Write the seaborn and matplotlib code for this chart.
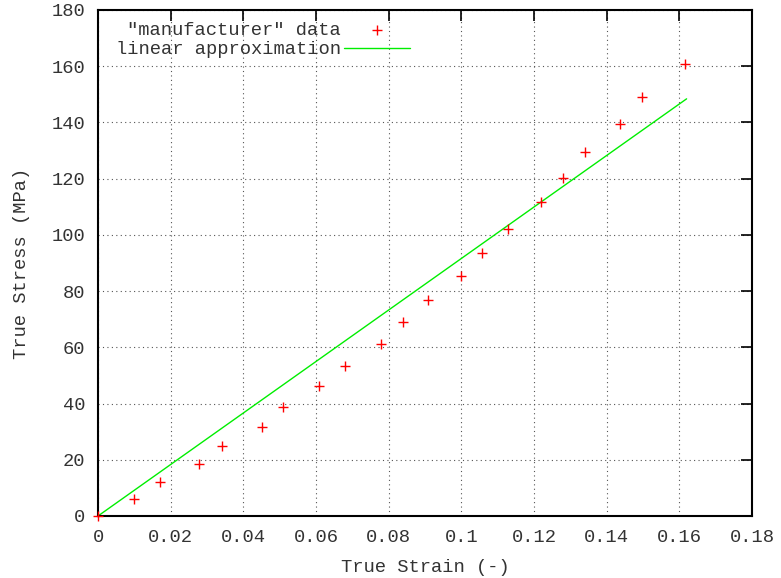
import matplotlib
matplotlib.use("Agg")
import matplotlib.pyplot as plt
import seaborn as sns
import pandas as pd

strain = [0.0, 0.0099, 0.0171, 0.0278, 0.0341, 0.0451, 0.0509, 0.0608, 0.068, 0.0779,
          0.0839, 0.0908, 0.0999, 0.1057, 0.1129, 0.1219, 0.128, 0.134, 0.1437, 0.1497, 0.1616]
stress = [0.0, 6.0, 12.1, 18.5, 24.9, 31.7, 38.8, 46.2, 53.4, 61.2,
          69.0, 76.8, 85.4, 93.6, 102.1, 111.7, 120.2, 129.5, 139.5, 149.1, 160.8]
fit_strain = [0.0, 0.162]
fit_stress = [0.0, 148.4]
xticks = [0, 0.02, 0.04, 0.06, 0.08, 0.1, 0.12, 0.14, 0.16, 0.18]
xticklabels = ["0", "0.02", "0.04", "0.06", "0.08", "0.1", "0.12", "0.14", "0.16", "0.18"]
yticks = [0, 20, 40, 60, 80, 100, 120, 140, 160, 180]

sns.set_theme(style="white")
plt.rcParams['font.family'] = ['Liberation Mono', 'DejaVu Sans Mono']

fig = plt.figure(figsize=(7.81, 5.78), dpi=100)
ax = fig.add_axes([98/781, 1-516/578, (752-98)/781, (516-10)/578])

df = pd.DataFrame({"strain": strain, "stress": stress})
fit = pd.DataFrame({"strain": fit_strain, "stress": fit_stress})

sns.scatterplot(data=df, x="strain", y="stress", ax=ax, marker="+", s=60,
                color="#ff0000", linewidth=1.0, label='"manufacturer" data', zorder=3, clip_on=False)
sns.lineplot(data=fit, x="strain", y="stress", ax=ax, color="#00ee00", linewidth=1.0,
             label="linear approximation", zorder=2)

fs = 13.5
tc = "#333333"
ax.set_xlim(0, 0.18)
ax.set_ylim(0, 180)
ax.set_xticks(xticks)
ax.set_xticklabels(xticklabels)
ax.set_yticks(yticks)
ax.grid(True, color="#555555", linestyle=(0, (1, 3)), linewidth=0.8)
ax.tick_params(direction="in", length=8, width=1.2, top=True, right=True,
               labelsize=fs, colors="black", labelcolor=tc, pad=9)
for sp in ax.spines.values():
    sp.set_color("black")
    sp.set_linewidth(1.5)
ax.set_xlabel("True Strain (-)", fontsize=fs, color=tc, labelpad=10)
ax.set_ylabel("True Stress (MPa)", fontsize=fs, color=tc, labelpad=16)

leg = ax.legend(loc="upper right", frameon=False, markerfirst=False, fontsize=fs,
                handlelength=3.5, handletextpad=0.2, borderaxespad=0.0, borderpad=0.0,
                labelspacing=0.12, bbox_to_anchor=((410-98)/654, (516-22)/506))
for t in leg.get_texts():
    t.set_color(tc)

fig.savefig("out.png", dpi=100)
